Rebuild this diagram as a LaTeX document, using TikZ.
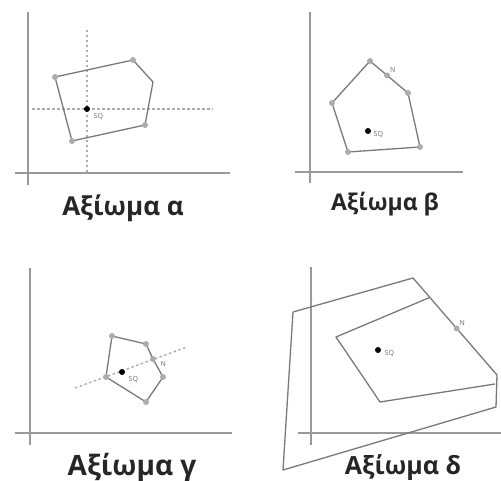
\documentclass[tikz,border=0pt]{standalone}
\usepackage{fontspec}
\setmainfont{Open Sans}
\usetikzlibrary{calc}

\begin{document}
\begin{tikzpicture}[x=1pt, y=-1pt,
  axis/.style={gray!80, line width=1.2pt},
  edge/.style={gray!95!black, line width=1.3pt, line join=round},
  guide/.style={gray!65, line width=1.4pt, dash pattern=on 2.5pt off 2.5pt},
  vertex/.style={circle, fill=gray!65, inner sep=0pt, minimum size=6pt},
  sq/.style={circle, fill=black, inner sep=0pt, minimum size=6pt},
  tag/.style={font=\fontsize{7}{7}\selectfont, text=gray!85!black, inner sep=0.5pt},
  caption/.style={font=\bfseries\fontsize{#1}{#1}\selectfont, text=black!85, anchor=base}]

\useasboundingbox (0,0) rectangle (501,481);

% Axiom alpha
\coordinate (a-ybot) at (28,185);
\coordinate (a-ytop) at (28,12);
\coordinate (a-xl) at (15,173);
\coordinate (a-xr) at (230,173);
\draw[axis] (a-ybot) -- (a-ytop);
\draw[axis] (a-xl) -- (a-xr);
\coordinate (a-gt) at (87,30);
\coordinate (a-gb) at (87,173);
\coordinate (a-gl) at (32,109);
\coordinate (a-gr) at (213,109);
\draw[guide] (a-gt) -- (a-gb);
\draw[guide] (a-gl) -- (a-gr);
\coordinate (a1) at (55,77);
\coordinate (a2) at (133,60);
\coordinate (a3) at (153,82);
\coordinate (a4) at (145,125);
\coordinate (a5) at (72,141);
\draw[edge] (a1) -- (a2) -- (a3) -- (a4) -- (a5) -- cycle;
\foreach \v in {a1,a2,a4,a5} \node[vertex] at (\v) {};
\node[sq] (a-sq) at (87,109) {};
\node[tag, anchor=west] at (93,117) {SQ};
\node[caption=26] (a-cap) at (123,216) {Αξίωμα α};

% Axiom beta
\coordinate (b-ybot) at (310,183);
\coordinate (b-ytop) at (310,12);
\coordinate (b-xl) at (295,172);
\coordinate (b-xr) at (463,172);
\draw[axis] (b-ybot) -- (b-ytop);
\draw[axis] (b-xl) -- (b-xr);
\coordinate (b1) at (332,103);
\coordinate (b2) at (370,61);
\coordinate (b3) at (408,93);
\coordinate (b4) at (420,147);
\coordinate (b5) at (348,152);
\draw[edge] (b1) -- (b2) -- (b3) -- (b4) -- (b5) -- cycle;
\foreach \v in {b1,b2,b3,b4,b5} \node[vertex] at (\v) {};
\node[vertex] (b-n) at ($(b2)!0.45!(b3)$) {};
\node[tag, anchor=south west] at (b-n.north east) {N};
\node[sq] (b-sq) at (368,131) {};
\node[tag, anchor=west] at (373,135) {SQ};
\node[caption=23] (b-cap) at (385,211) {Αξίωμα β};

% Axiom gamma
\coordinate (c-ybot) at (30,445);
\coordinate (c-ytop) at (30,268);
\coordinate (c-xl) at (15,433);
\coordinate (c-xr) at (232,433);
\draw[axis] (c-ybot) -- (c-ytop);
\draw[axis] (c-xl) -- (c-xr);
\coordinate (c-gl) at (75,388);
\coordinate (c-gr) at (187,347);
\draw[guide] (c-gl) -- (c-gr);
\coordinate (c1) at (112,336);
\coordinate (c2) at (146,344);
\coordinate (c3) at (153,359);
\coordinate (c4) at (163,377);
\coordinate (c5) at (146,402);
\coordinate (c6) at (106,377);
\draw[edge] (c1) -- (c2) -- (c3) -- (c4) -- (c5) -- (c6) -- cycle;
\foreach \v in {c1,c2,c3,c4,c5,c6} \node[vertex] at (\v) {};
\node[sq] (c-sq) at (122,372) {};
\node[tag, anchor=west] at (128,380) {SQ};
\node[tag, anchor=west] at (160,364) {N};
\node[caption=28] (c-cap) at (132,475) {Αξίωμα γ};

% Axiom delta
\coordinate (d-ybot) at (311,445);
\coordinate (d-ytop) at (311,267);
\coordinate (d-xl) at (298,433);
\coordinate (d-xr) at (501,433);
\draw[axis] (d-ybot) -- (d-ytop);
\draw[axis] (d-xl) -- (d-xr);
\coordinate (o1) at (293,312);
\coordinate (o2) at (413,278);
\coordinate (o3) at (497,375);
\coordinate (o4) at (496,407);
\coordinate (o5) at (283,470);
\draw[edge] (o1) -- (o2) -- (o3) -- (o4) -- (o5) -- cycle;
\coordinate (i1) at (336,337);
\coordinate (i2) at ($(o2)!0.2!(o3)$);
\coordinate (i3) at (495,384);
\coordinate (i4) at (380,402);
\draw[edge] (i2) -- (i1) -- (i4) -- (i3);
\node[vertex] (d-n) at ($(o2)!0.52!(o3)$) {};
\node[tag, anchor=south west] at (d-n.north east) {N};
\node[sq] (d-sq) at (378,350) {};
\node[tag, anchor=west] at (384,354) {SQ};
\node[caption=25] (d-cap) at (403,474) {Αξίωμα δ};

\end{tikzpicture}
\end{document}
